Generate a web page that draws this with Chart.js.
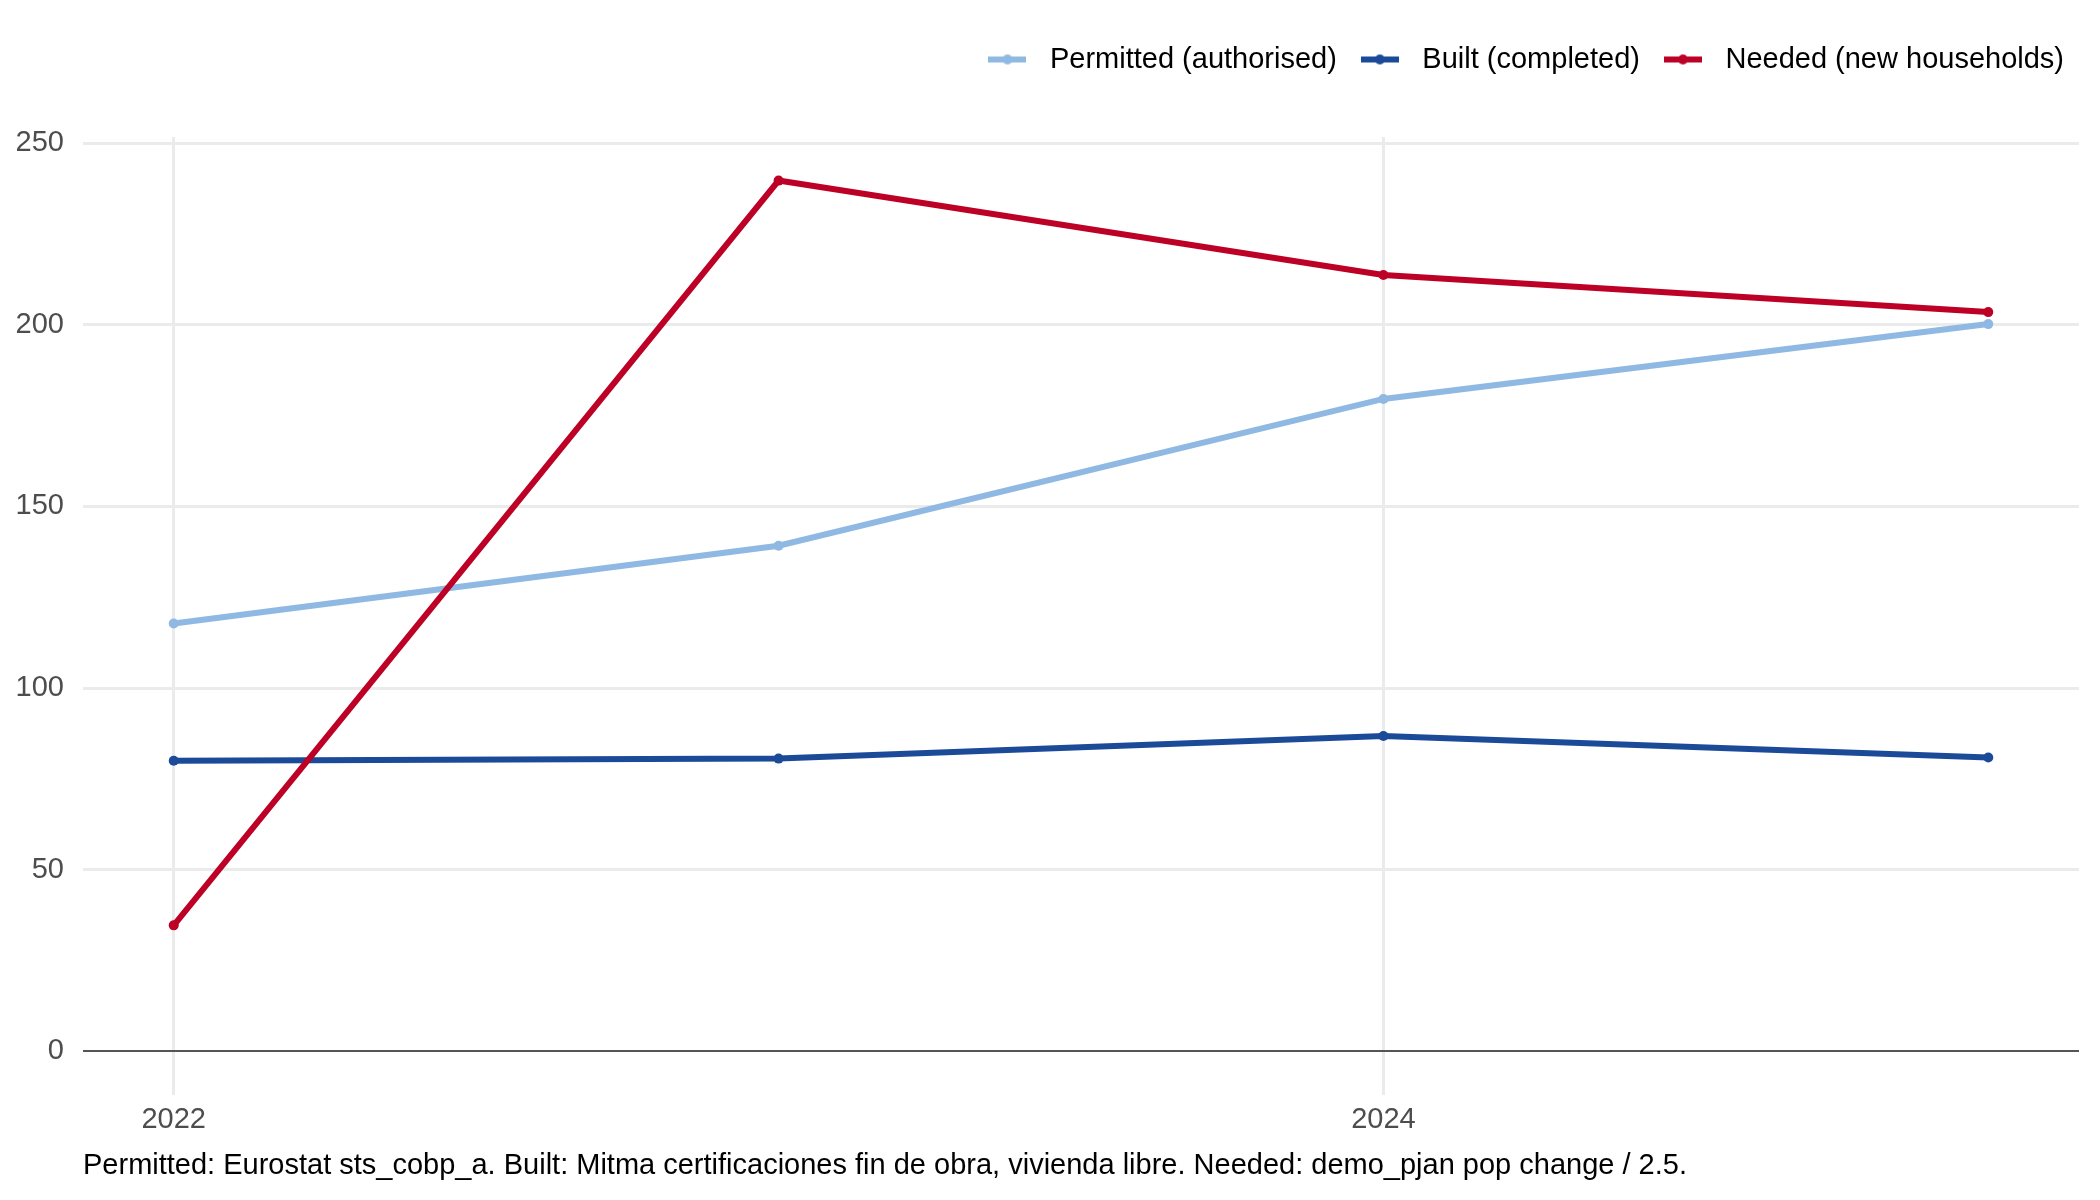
<!DOCTYPE html>
<html>
<head>
<meta charset="utf-8">
<script src="https://cdn.jsdelivr.net/npm/chart.js@4.4.1/dist/chart.umd.min.js"></script>
<style>
  body { margin: 0; background: #fff; }
  canvas { display: block; }
</style>
</head>
<body>
<canvas id="housingChart" width="2100" height="1200"></canvas>
<script>
const years = [2022, 2023, 2024, 2025];
const permitted = [117.8, 139.2, 179.6, 200.2];
const built = [80.0, 80.6, 86.8, 80.9];
const needed = [34.7, 239.7, 213.7, 203.5];
const xTicks = [2022, 2024];
const yTicks = [0, 50, 100, 150, 200, 250];
const seriesNames = ['Permitted (authorised)', 'Built (completed)', 'Needed (new households)'];
const caption = 'Permitted: Eurostat sts_cobp_a. Built: Mitma certificaciones fin de obra, vivienda libre. Needed: demo_pjan pop change / 2.5.';

const colors = ['#8FB9E3', '#1B4A98', '#BD0026'];
const fontFamily = '"Liberation Sans", Arial, Helvetica, sans-serif';
const fontSize = 29;

function toPoints(values) {
  return years.map((y, i) => ({ x: y, y: values[i] }));
}

// little line + dot key for the legend
function legendIcon(color) {
  const c = document.createElement('canvas');
  c.width = 38;
  c.height = 12;
  const g = c.getContext('2d');
  g.strokeStyle = color;
  g.lineWidth = 6;
  g.beginPath();
  g.moveTo(0, 6);
  g.lineTo(38, 6);
  g.stroke();
  g.fillStyle = color;
  g.beginPath();
  g.arc(19, 6, 5, 0, Math.PI * 2);
  g.fill();
  return c;
}
const icons = colors.map(legendIcon);

function makeDataset(i, values, order) {
  return {
    label: seriesNames[i],
    data: toPoints(values),
    borderColor: colors[i],
    backgroundColor: colors[i],
    pointBackgroundColor: colors[i],
    borderWidth: 6,
    pointRadius: 5,
    pointBorderWidth: 0,
    tension: 0,
    order: order
  };
}

const legendSpacer = {
  id: 'legendSpacer',
  beforeInit(chart) {
    const fit = chart.legend.fit;
    chart.legend.fit = function () {
      fit.call(this);
      this.height += 53;
    };
  }
};

const captionPlugin = {
  id: 'captionPlugin',
  afterDraw(chart) {
    const ctx = chart.ctx;
    ctx.save();
    ctx.font = fontSize + 'px ' + fontFamily;
    ctx.fillStyle = '#000';
    ctx.textAlign = 'left';
    ctx.textBaseline = 'middle';
    ctx.fillText(caption, chart.chartArea.left, chart.height - 34);
    ctx.restore();
  }
};

new Chart(document.getElementById('housingChart').getContext('2d'), {
  type: 'line',
  data: {
    datasets: [
      makeDataset(0, permitted, 2),
      makeDataset(1, built, 1),
      makeDataset(2, needed, 0)
    ]
  },
  options: {
    responsive: false,
    animation: false,
    layout: { padding: { left: 0, right: 21, top: 30, bottom: 0 } },
    plugins: {
      tooltip: { enabled: false },
      legend: {
        position: 'top',
        align: 'end',
        labels: {
          usePointStyle: true,
          pointStyleWidth: 56,
          padding: 15,
          color: '#000',
          font: { family: fontFamily, size: fontSize },
          generateLabels(chart) {
            const items = Chart.defaults.plugins.legend.labels.generateLabels(chart);
            items.sort((a, b) => a.datasetIndex - b.datasetIndex);
            return items.map(it => ({ ...it, pointStyle: icons[it.datasetIndex] }));
          }
        }
      }
    },
    scales: {
      x: {
        type: 'linear',
        min: 2021.85,
        max: 2025.15,
        afterBuildTicks(scale) {
          scale.ticks = xTicks.map(v => ({ value: v }));
        },
        afterFit(scale) {
          scale.height = 105;
        },
        grid: { color: '#EBEBEB', lineWidth: 3, drawTicks: false },
        border: { display: false },
        ticks: {
          color: '#4D4D4D',
          padding: 8,
          font: { family: fontFamily, size: fontSize },
          callback: v => String(v)
        }
      },
      y: {
        min: -12,
        max: 251.7,
        afterBuildTicks(scale) {
          scale.ticks = yTicks.map(v => ({ value: v }));
        },
        afterFit(scale) {
          scale.width = 83;
        },
        grid: {
          drawTicks: false,
          color: ctx => ctx.tick && ctx.tick.value === 0 ? '#555555' : '#EBEBEB',
          lineWidth: ctx => ctx.tick && ctx.tick.value === 0 ? 2 : 3
        },
        border: { display: false },
        ticks: {
          color: '#4D4D4D',
          padding: 19,
          font: { family: fontFamily, size: fontSize }
        }
      }
    }
  },
  plugins: [legendSpacer, captionPlugin]
});
</script>
</body>
</html>
